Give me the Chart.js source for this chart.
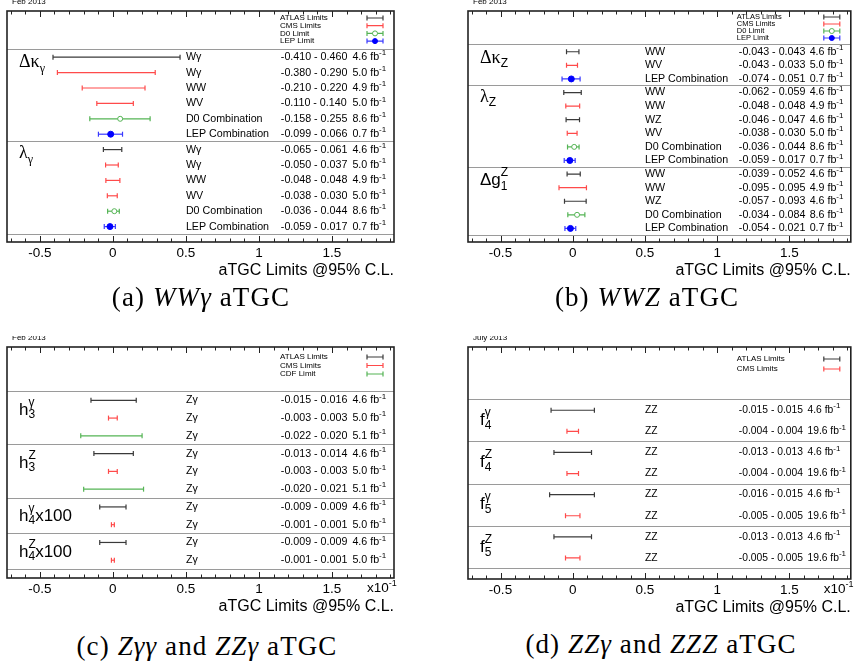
<!DOCTYPE html>
<html>
<head>
<meta charset="utf-8">
<script src="https://cdn.jsdelivr.net/npm/chart.js@4.4.1/dist/chart.umd.min.js"></script>
<style>
  body { margin: 0; background: #fff; }
  #page { position: relative; width: 856px; height: 665px; overflow: hidden; }
  canvas { position: absolute; }
  .cap { position: absolute; font-family: "Liberation Serif", serif; font-size: 27px; line-height: 26px;
         white-space: nowrap; transform: translateX(-50%); letter-spacing: 1.1px; }
</style>
</head>
<body>
<div id="page">
  <canvas id="cA" width="428" height="290" style="left:0;top:0"></canvas>
  <canvas id="cB" width="428" height="290" style="left:428px;top:0"></canvas>
  <canvas id="cC" width="428" height="290" style="left:0;top:336px"></canvas>
  <canvas id="cD" width="428" height="290" style="left:428px;top:336px"></canvas>
  <div class="cap" style="left:201px;top:284px">(a) <i>WWγ</i> aTGC</div>
  <div class="cap" style="left:647px;top:284px">(b) <i>WWZ</i> aTGC</div>
  <div class="cap" style="left:207px;top:633px">(c) <i>Zγγ</i> and <i>ZZγ</i> aTGC</div>
  <div class="cap" style="left:661px;top:631px">(d) <i>ZZγ</i> and <i>ZZZ</i> aTGC</div>
</div>
<script>
// tick labels shared by all four panels
const xTicks = [-0.5, 0, 0.5, 1, 1.5];

// (a) WWgamma
const aProc = ['Wγ', 'Wγ', 'WW', 'WV', 'D0 Combination', 'LEP Combination',
               'Wγ', 'Wγ', 'WW', 'WV', 'D0 Combination', 'LEP Combination'];
const aExp = ['ATLAS', 'CMS', 'CMS', 'CMS', 'D0', 'LEP', 'ATLAS', 'CMS', 'CMS', 'CMS', 'D0', 'LEP'];
const aLo = [-0.410, -0.380, -0.210, -0.110, -0.158, -0.099, -0.065, -0.050, -0.048, -0.038, -0.036, -0.059];
const aHi = [0.460, 0.290, 0.220, 0.140, 0.255, 0.066, 0.061, 0.037, 0.048, 0.030, 0.044, 0.017];
const aMid = [null, null, null, null, 0.05, -0.015, null, null, null, null, 0.01, -0.02];
const aLumi = ['4.6', '5.0', '4.9', '5.0', '8.6', '0.7', '4.6', '5.0', '4.9', '5.0', '8.6', '0.7'];
const aSeps = [-0.5, 5.5, 11.5];

// (b) WWZ
const bProc = ['WW', 'WV', 'LEP Combination',
               'WW', 'WW', 'WZ', 'WV', 'D0 Combination', 'LEP Combination',
               'WW', 'WW', 'WZ', 'D0 Combination', 'LEP Combination'];
const bExp = ['ATLAS', 'CMS', 'LEP', 'ATLAS', 'CMS', 'ATLAS', 'CMS', 'D0', 'LEP',
              'ATLAS', 'CMS', 'ATLAS', 'D0', 'LEP'];
const bLo = [-0.043, -0.043, -0.074, -0.062, -0.048, -0.046, -0.038, -0.036, -0.059,
             -0.039, -0.095, -0.057, -0.034, -0.054];
const bHi = [0.043, 0.033, 0.051, 0.059, 0.048, 0.047, 0.030, 0.044, 0.017,
             0.052, 0.095, 0.093, 0.084, 0.021];
const bMid = [null, null, -0.01, null, null, null, null, 0.01, -0.02, null, null, null, 0.03, -0.016];
const bLumi = ['4.6', '5.0', '0.7', '4.6', '4.9', '4.6', '5.0', '8.6', '0.7', '4.6', '4.9', '4.6', '8.6', '0.7'];
const bSeps = [-0.5, 2.5, 8.5, 13.5];

// (c) Zgammagamma and ZZgamma (plotted x10)
const cProc = ['Zγ', 'Zγ', 'Zγ', 'Zγ', 'Zγ', 'Zγ', 'Zγ', 'Zγ', 'Zγ', 'Zγ'];
const cExp = ['ATLAS', 'CMS', 'CDF', 'ATLAS', 'CMS', 'CDF', 'ATLAS', 'CMS', 'ATLAS', 'CMS'];
const cLo = [-0.015, -0.003, -0.022, -0.013, -0.003, -0.020, -0.009, -0.001, -0.009, -0.001];
const cHi = [0.016, 0.003, 0.020, 0.014, 0.003, 0.021, 0.009, 0.001, 0.009, 0.001];
const cLumi = ['4.6', '5.0', '5.1', '4.6', '5.0', '5.1', '4.6', '5.0', '4.6', '5.0'];
const cSeps = [-0.5, 2.5, 5.5, 7.5, 9.5];

// (d) ZZgamma and ZZZ (plotted x10)
const dProc = ['ZZ', 'ZZ', 'ZZ', 'ZZ', 'ZZ', 'ZZ', 'ZZ', 'ZZ'];
const dExp = ['ATLAS', 'CMS', 'ATLAS', 'CMS', 'ATLAS', 'CMS', 'ATLAS', 'CMS'];
const dLo = [-0.015, -0.004, -0.013, -0.004, -0.016, -0.005, -0.013, -0.005];
const dHi = [0.015, 0.004, 0.013, 0.004, 0.015, 0.005, 0.013, 0.005];
const dLumi = ['4.6', '19.6', '4.6', '19.6', '4.6', '19.6', '4.6', '19.6'];
const dSeps = [-0.5, 1.5, 3.5, 5.5, 7.5];

const expColor = { ATLAS: '#3a3a3a', CMS: '#ff4a4a', D0: '#55b455', CDF: '#55b455', LEP: '#3a3aff' };
const SANS = '"Liberation Sans", Arial, sans-serif';
const SERIF = '"Liberation Serif", serif';
const G = '18px ' + SERIF, GS = '12px ' + SERIF;
const H = '17px ' + SANS, HS = '12px ' + SANS;

function rich(ctx, x, y, parts) {
  parts.forEach(([t, font, dy, adv]) => {
    ctx.font = font;
    ctx.fillText(t, x, y + dy);
    if (adv !== false) x += ctx.measureText(t).width;
  });
}

function drawBar(ctx, x0, x1, y, col, mark) {
  ctx.strokeStyle = col; ctx.lineWidth = 1.2;
  ctx.beginPath();
  ctx.moveTo(x0, y); ctx.lineTo(x1, y);
  ctx.moveTo(x0, y - 2.5); ctx.lineTo(x0, y + 2.5);
  ctx.moveTo(x1, y - 2.5); ctx.lineTo(x1, y + 2.5);
  ctx.stroke();
  if (mark) {
    ctx.beginPath();
    ctx.arc((x0 + x1) / 2, y, 2.5, 0, Math.PI * 2);
    ctx.fillStyle = mark === 'LEP' ? '#0000ff' : '#fff';
    ctx.fill();
    ctx.strokeStyle = mark === 'LEP' ? '#0000ff' : col;
    ctx.lineWidth = 1;
    ctx.stroke();
  }
}

function panel(id, p) {
  const k = p.k || 1;
  const datasets = [];
  p.lo.forEach((lo, i) => {
    const col = expColor[p.exp[i]];
    datasets.push({
      data: [{ x: lo * k, y: i }, { x: p.hi[i] * k, y: i }],
      borderColor: col, borderWidth: 1.2,
      pointStyle: 'line', pointRotation: 90, pointRadius: 2.5,
      pointBorderColor: col, pointBorderWidth: 1.2, order: 1
    });
    if (p.mid && p.mid[i] !== null) {
      const lep = p.exp[i] === 'LEP';
      datasets.push({
        type: 'scatter', data: [{ x: p.mid[i] * k, y: i }],
        pointStyle: 'circle', pointRadius: lep ? 3 : 2.5,
        pointBackgroundColor: lep ? '#0000ff' : '#ffffff',
        pointBorderColor: lep ? '#0000ff' : col, pointBorderWidth: 1, order: 0
      });
    }
  });

  const texts = {
    id: 'texts',
    afterDraw(chart) {
      const { ctx, chartArea: a, scales: { x, y } } = chart;
      ctx.save();
      // frame and inward ticks
      ctx.strokeStyle = '#222'; ctx.lineWidth = 1.6;
      ctx.strokeRect(a.left, a.top, a.right - a.left, a.bottom - a.top);
      ctx.lineWidth = 1;
      ctx.beginPath();
      for (let t = -7; t <= 19; t++) {
        const px = Math.round(x.getPixelForValue(t / 10)) + 0.5;
        const len = t % 5 === 0 ? 6 : 3.5;
        ctx.moveTo(px, a.bottom); ctx.lineTo(px, a.bottom - len);
        ctx.moveTo(px, a.top); ctx.lineTo(px, a.top + len);
      }
      ctx.stroke();

      ctx.fillStyle = '#000';
      ctx.textBaseline = 'middle';
      ctx.font = '8px ' + SANS;
      ctx.fillText(p.date, a.left + 5, a.top - 9);

      // row texts
      const rf = (p.rowFont || 10.7) + 'px ' + SANS;
      const lumX = x.getPixelForValue(p.lumX || 1.64);
      p.proc.forEach((t, i) => {
        const py = y.getPixelForValue(i);
        ctx.font = rf;
        ctx.fillText(t, x.getPixelForValue(0.5), py);
        ctx.fillText(p.lo[i].toFixed(3) + ' - ' + p.hi[i].toFixed(3), x.getPixelForValue(1.15), py);
        rich(ctx, lumX, py, [[p.lumi[i] + ' fb', rf, 0], ['-1', '8px ' + SANS, -4]]);
      });

      // group labels
      ctx.textBaseline = 'alphabetic';
      p.groups.forEach(g => rich(ctx, a.left + 12, y.getPixelForValue(g.row), g.parts));

      // legend
      ctx.textBaseline = 'middle';
      p.legend.names.forEach((n, i) => {
        const ly = a.top + p.legend.y0 + i * p.legend.step;
        ctx.font = p.legend.font + 'px ' + SANS;
        ctx.fillStyle = '#000';
        ctx.fillText(n, a.right - 114, ly);
        const e = p.legend.exps[i];
        drawBar(ctx, a.right - 27, a.right - 11, ly, expColor[e], e === 'D0' || e === 'LEP' ? e : null);
      });

      if (k !== 1) {
        ctx.fillStyle = '#000';
        ctx.textBaseline = 'middle';
        rich(ctx, a.right - 27, a.bottom + 10, [['x10', '13.5px ' + SANS, 0], ['-1', '9px ' + SANS, -4]]);
      }
      ctx.restore();
    }
  };

  new Chart(document.getElementById(id), {
    type: 'line',
    data: { datasets },
    options: {
      responsive: false,
      animation: false,
      events: [],
      layout: { padding: p.pad },
      plugins: { legend: { display: false }, tooltip: { enabled: false } },
      scales: {
        x: {
          type: 'linear', min: -0.725, max: 1.925,
          afterBuildTicks: s => { s.ticks = xTicks.map(v => ({ value: v })); },
          afterFit: s => { s.height = 38; },
          grid: { display: false, drawTicks: false, tickLength: 0 },
          border: { display: false },
          ticks: { color: '#000', padding: 3, font: { family: SANS, size: 13.5 },
                   callback: v => String(v) },
          title: { display: true, text: 'aTGC Limits @95% C.L.', align: 'end', color: '#000',
                   padding: 0, font: { family: SANS, size: 16 } }
        },
        y: {
          type: 'linear', reverse: true, min: -3, max: p.lo.length,
          afterBuildTicks: s => { s.ticks = p.seps.map(v => ({ value: v })); },
          afterFit: s => { s.width = 0; },
          ticks: { display: false },
          grid: { color: '#9a9a9a', lineWidth: 1, drawTicks: false },
          border: { display: false }
        }
      }
    },
    plugins: [texts]
  });
}

panel('cA', {
  proc: aProc, exp: aExp, lo: aLo, hi: aHi, mid: aMid, lumi: aLumi, seps: aSeps,
  date: 'Feb 2013', pad: { left: 7, top: 11, right: 34, bottom: 10 },
  groups: [
    { row: 0.65, parts: [['Δκ', G, 0], ['γ', GS, 5]] },
    { row: 6.55, parts: [['λ', G, 0], ['γ', GS, 5]] }
  ],
  legend: { names: ['ATLAS Limits', 'CMS Limits', 'D0 Limit', 'LEP Limit'],
            exps: ['ATLAS', 'CMS', 'D0', 'LEP'], y0: 7, step: 7.7, font: 8 }
});

panel('cB', {
  proc: bProc, exp: bExp, lo: bLo, hi: bHi, mid: bMid, lumi: bLumi, seps: bSeps,
  date: 'Feb 2013', pad: { left: 40, top: 11, right: 1, bottom: 10 },
  groups: [
    { row: 0.8, parts: [['Δκ', G, 0], ['Z', HS, 4]] },
    { row: 3.7, parts: [['λ', G, 0], ['Z', HS, 4]] },
    { row: 9.8, parts: [['Δg', H, 0], ['Z', HS, -9, false], ['1', HS, 5]] }
  ],
  legend: { names: ['ATLAS Limits', 'CMS Limits', 'D0 Limit', 'LEP Limit'],
            exps: ['ATLAS', 'CMS', 'D0', 'LEP'], y0: 6, step: 7, font: 7.5 }
});

panel('cC', {
  proc: cProc, exp: cExp, lo: cLo, hi: cHi, lumi: cLumi, seps: cSeps, k: 10,
  date: 'Feb 2013', pad: { left: 7, top: 11, right: 34, bottom: 10 },
  groups: [
    { row: 0.84, parts: [['h', H, 0], ['γ', HS, -9, false], ['3', HS, 3]] },
    { row: 3.8, parts: [['h', H, 0], ['Z', HS, -9, false], ['3', HS, 3]] },
    { row: 6.8, parts: [['h', H, 0], ['γ', HS, -9, false], ['4', HS, 3], ['x100', H, 0]] },
    { row: 8.8, parts: [['h', H, 0], ['Z', HS, -9, false], ['4', HS, 3], ['x100', H, 0]] }
  ],
  legend: { names: ['ATLAS Limits', 'CMS Limits', 'CDF Limit'],
            exps: ['ATLAS', 'CMS', 'CDF'], y0: 10, step: 8.5, font: 8 }
});

panel('cD', {
  proc: dProc, exp: dExp, lo: dLo, hi: dHi, lumi: dLumi, seps: dSeps, k: 10, rowFont: 10.3, lumX: 1.625,
  date: 'July 2013', pad: { left: 40, top: 11, right: 1, bottom: 9 },
  groups: [
    { row: 0.7, parts: [['f', H, 0], ['γ', HS, -9, false], ['4', HS, 4]] },
    { row: 2.7, parts: [['f', H, 0], ['Z', HS, -9, false], ['4', HS, 4]] },
    { row: 4.7, parts: [['f', H, 0], ['γ', HS, -9, false], ['5', HS, 4]] },
    { row: 6.7, parts: [['f', H, 0], ['Z', HS, -9, false], ['5', HS, 4]] }
  ],
  legend: { names: ['ATLAS Limits', 'CMS Limits'], exps: ['ATLAS', 'CMS'], y0: 12, step: 10, font: 8 }
});
</script>
</body>
</html>
